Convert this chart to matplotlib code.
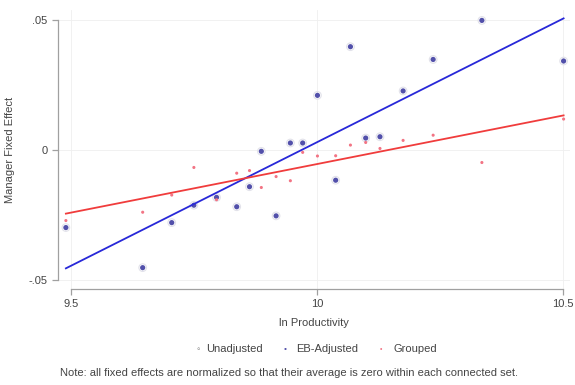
import numpy as np
import matplotlib
matplotlib.use("Agg")
import matplotlib.pyplot as plt

plt.rcParams['font.family'] = ['Liberation Sans', 'DejaVu Sans']

# binned ln productivity
ln_prod = [9.490, 9.646, 9.705, 9.750, 9.796, 9.837, 9.863, 9.887, 9.917, 9.946,
           9.971, 10.001, 10.038, 10.068, 10.099, 10.128, 10.175, 10.236, 10.335, 10.501]
# manager fixed effects
unadjusted = [-0.0299, -0.0453, -0.0280, -0.0213, -0.0183, -0.0219, -0.0142, -0.0006, -0.0254, 0.0026,
              0.0026, 0.0209, -0.0117, 0.0396, 0.0045, 0.0050, 0.0226, 0.0347, 0.0497, 0.0341]
eb_adjusted = [-0.0299, -0.0453, -0.0280, -0.0213, -0.0183, -0.0219, -0.0142, -0.0006, -0.0254, 0.0026,
               0.0026, 0.0209, -0.0117, 0.0396, 0.0045, 0.0050, 0.0226, 0.0347, 0.0497, 0.0341]
grouped = [-0.0272, -0.0240, -0.0174, -0.0068, -0.0192, -0.0090, -0.0080, -0.0145, -0.0103, -0.0119,
           -0.0010, -0.0024, -0.0023, 0.0018, 0.0028, 0.0005, 0.0036, 0.0056, -0.0049, 0.0118]

x_ticks = [9.5, 10, 10.5]
x_labels = ['9.5', '10', '10.5']
y_ticks = [-0.05, 0, 0.05]
y_labels = ['-.05', '0', '.05']

x = np.array(ln_prod)
txt = '#444444'
fs = 8

fig = plt.figure(figsize=(5.75, 3.85), dpi=100)
ax = fig.add_axes([58/575, 1 - 289/385, 512/575, 279/385])

grid_col = '#efefef'
for t in x_ticks:
    ax.axvline(t, color=grid_col, lw=0.6, zorder=0)
for t in y_ticks:
    ax.axhline(t, color=grid_col, lw=0.6, zorder=0)

ax.scatter(x, unadjusted, s=30, facecolors='none', edgecolors='#e2e2ea', linewidths=0.8, zorder=2)
ax.scatter(x, eb_adjusted, s=14, color='#5250aa', edgecolors='none', zorder=3)
ax.scatter(x, grouped, s=5, color='#f27484', edgecolors='none', zorder=3)

# linear fits
xs = np.array([x.min(), x.max()])
b = np.polyfit(x, eb_adjusted, 1)
ax.plot(xs, np.polyval(b, xs), color='#2828d8', lw=1.3, zorder=4)
r = np.polyfit(x, grouped, 1)
ax.plot(xs, np.polyval(r, xs), color='#f03c3c', lw=1.3, zorder=4)

ax.set_xlim(9.474, 10.514)
ax.set_ylim(-0.0535, 0.0537)

ax.set_xticks(x_ticks)
ax.set_xticklabels(x_labels)
ax.set_yticks(y_ticks)
ax.set_yticklabels(y_labels)

for s in ['top', 'right']:
    ax.spines[s].set_visible(False)
ax.spines['left'].set_bounds(-0.05, 0.05)
ax.spines['bottom'].set_bounds(9.5, 10.5)
for s in ['left', 'bottom']:
    ax.spines[s].set_color('#a0a0a0')
    ax.spines[s].set_linewidth(0.9)
ax.tick_params(axis='both', colors='#a0a0a0', labelcolor=txt, labelsize=fs, length=4, width=0.9)

ax.set_xlabel('ln Productivity', fontsize=fs, color=txt, labelpad=6)
ax.set_ylabel('Manager Fixed Effect', fontsize=fs, color=txt)
ax.yaxis.set_label_coords(-(58 - 15) / 512, 0.5)

# legend row
ly = 1 - 349/385
fig.text(198/575, ly, '\u25e6', fontsize=7, color='#808080', ha='center', va='center')
fig.text(206/575, ly, 'Unadjusted', fontsize=fs, color=txt, ha='left', va='center')
fig.text(285/575, ly, '\u2022', fontsize=6, color='#5250aa', ha='center', va='center')
fig.text(296/575, ly, 'EB-Adjusted', fontsize=fs, color=txt, ha='left', va='center')
fig.text(381/575, ly, '\u2022', fontsize=5, color='#f27484', ha='center', va='center')
fig.text(394/575, ly, 'Grouped', fontsize=fs, color=txt, ha='left', va='center')

fig.text(60/575, 1 - 373/385,
         'Note: all fixed effects are normalized so that their average is zero within each connected set.',
         fontsize=fs, color=txt, ha='left', va='center')

fig.savefig('out.png', dpi=100)
